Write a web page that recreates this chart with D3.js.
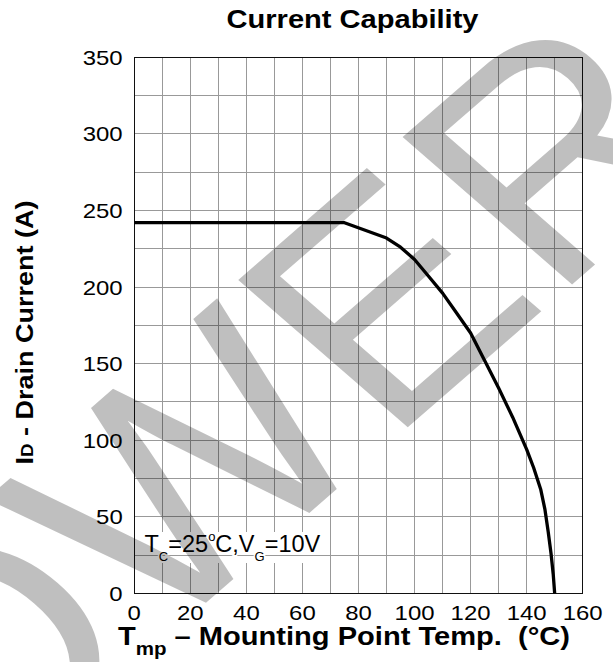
<!DOCTYPE html>
<html>
<head>
<meta charset="UTF-8">
<title>Current Capability</title>
<script src="https://d3js.org/d3.v7.min.js"></script>
<style>
    body { margin: 0; background: #fff; }
    svg { display: block; font-family: "Liberation Sans", Arial, sans-serif; }
    text { white-space: pre; }
</style>
</head>
<body>
<div id="chart"></div>
<script>
// values
const tempMP = [0, 75, 90, 95, 100, 105, 110, 115, 120, 125, 130, 135, 140, 142.5, 145, 146.5, 147.7, 148.7, 149.5, 150];
const drainCurrent = [242, 242, 232, 226, 218, 207, 196, 183, 170, 152, 134, 115, 94, 82, 68, 55, 40, 26, 12, 0];
const xTicks = [0, 20, 40, 60, 80, 100, 120, 140, 160];
const yTicks = [0, 50, 100, 150, 200, 250, 300, 350];
const xGrid = [10, 20, 30, 40, 50, 60, 70, 80, 90, 100, 110, 120, 130, 140, 150];
const yGrid = [25, 50, 75, 100, 125, 150, 175, 200, 225, 250, 275, 300, 325];

const width = 613, height = 662;
const wide = 1.14; // the source font runs wider than Arial

const svg = d3.select("#chart").append("svg")
    .attr("width", width)
    .attr("height", height);

const x = d3.scaleLinear().domain([0, 160]).range([134.3, 582.7]);
const y = d3.scaleLinear().domain([0, 350]).range([593.3, 57.3]);

function widen(sel) {
    sel.each(function () {
        const w = this.getComputedTextLength();
        d3.select(this).attr("textLength", w * wide).attr("lengthAdjust", "spacingAndGlyphs");
    });
}

// grid
const grid = svg.append("g").attr("stroke", "#999").attr("stroke-width", 1).attr("shape-rendering", "crispEdges");
grid.selectAll(".gx").data(xGrid).enter().append("line")
    .attr("x1", d => x(d)).attr("x2", d => x(d))
    .attr("y1", y(0)).attr("y2", y(350));
grid.selectAll(".gy").data(yGrid).enter().append("line")
    .attr("x1", x(0)).attr("x2", x(160))
    .attr("y1", d => y(d)).attr("y2", d => y(d));

// frame
svg.append("rect")
    .attr("x", x(0)).attr("y", y(350))
    .attr("width", x(160) - x(0)).attr("height", y(0) - y(350))
    .attr("fill", "none").attr("stroke", "#111").attr("stroke-width", 1)
    .attr("shape-rendering", "crispEdges");

// tick labels
svg.append("g").selectAll("text").data(yTicks).enter().append("text")
    .attr("x", x(0) - 11.6)
    .attr("y", d => y(d) + 7.5)
    .attr("text-anchor", "end")
    .attr("font-size", 21)
    .text(d => d)
    .call(widen);

svg.append("g").selectAll("text").data(xTicks).enter().append("text")
    .attr("x", d => x(d))
    .attr("y", 620)
    .attr("text-anchor", "middle")
    .attr("font-size", 21)
    .text(d => d)
    .call(widen);

// title
svg.append("text")
    .attr("x", 352.5).attr("y", 28.3)
    .attr("text-anchor", "middle")
    .attr("font-size", 25.5).attr("font-weight", "bold")
    .text("Current Capability")
    .call(widen);

// x axis title
const xt = svg.append("text")
    .attr("x", 118).attr("y", 644.5)
    .attr("font-size", 25.5).attr("font-weight", "bold");
xt.append("tspan").text("T");
xt.append("tspan").attr("font-size", 18).attr("dy", 10).text("mp");
xt.append("tspan").attr("dy", -10).text(" – Mounting Point Temp.  (°C)");
xt.call(widen);

// y axis title
const yt = svg.append("text")
    .attr("transform", "translate(33,332.5) rotate(-90)")
    .attr("text-anchor", "middle")
    .attr("font-size", 23.7).attr("font-weight", "bold");
yt.append("tspan").text("I");
yt.append("tspan").attr("font-size", 16.3).text("D");
yt.append("tspan").text(" - Drain Current (A)");
yt.call(widen);

// condition note
svg.append("rect")
    .attr("x", 140).attr("y", 532)
    .attr("width", 180).attr("height", 31)
    .attr("fill", "#fff");
svg.append("line")
    .attr("x1", 140).attr("x2", 320)
    .attr("y1", y(25)).attr("y2", y(25))
    .attr("stroke", "#999").attr("shape-rendering", "crispEdges");
const note = svg.append("text")
    .attr("x", 144.5).attr("y", 551.7)
    .attr("font-size", 23.5)
    .attr("stroke", "#fff").attr("stroke-width", 3).attr("paint-order", "stroke");
note.append("tspan").text("T");
note.append("tspan").attr("font-size", 13).attr("dy", 9).text("C");
note.append("tspan").attr("dy", -9).text("=25");
note.append("tspan").attr("font-size", 13).attr("dy", -11).text("o");
note.append("tspan").attr("dy", 11).text("C,V");
note.append("tspan").attr("font-size", 13).attr("dy", 9).text("G");
note.append("tspan").attr("dy", -9).text("=10V");

// derating curve
const line = d3.line()
    .x((d, i) => x(tempMP[i]))
    .y(d => y(d));
svg.append("path")
    .datum(drainCurrent)
    .attr("d", line)
    .attr("fill", "none")
    .attr("stroke", "#000")
    .attr("stroke-width", 3.3)
    .attr("stroke-linejoin", "round");

// watermark
const wm = svg.append("g")
    .attr("transform", "translate(407,428) scale(1.15,1) rotate(-45)");
const wmText = wm.append("text")
    .attr("font-size", 303)
    .attr("fill", "#000")
    .attr("fill-opacity", 0.25)
    .text("POWER");
const eStart = wmText.node().getStartPositionOfChar(3).x;
wmText.attr("x", -(eStart + 0.079 * 303));
</script>
</body>
</html>
